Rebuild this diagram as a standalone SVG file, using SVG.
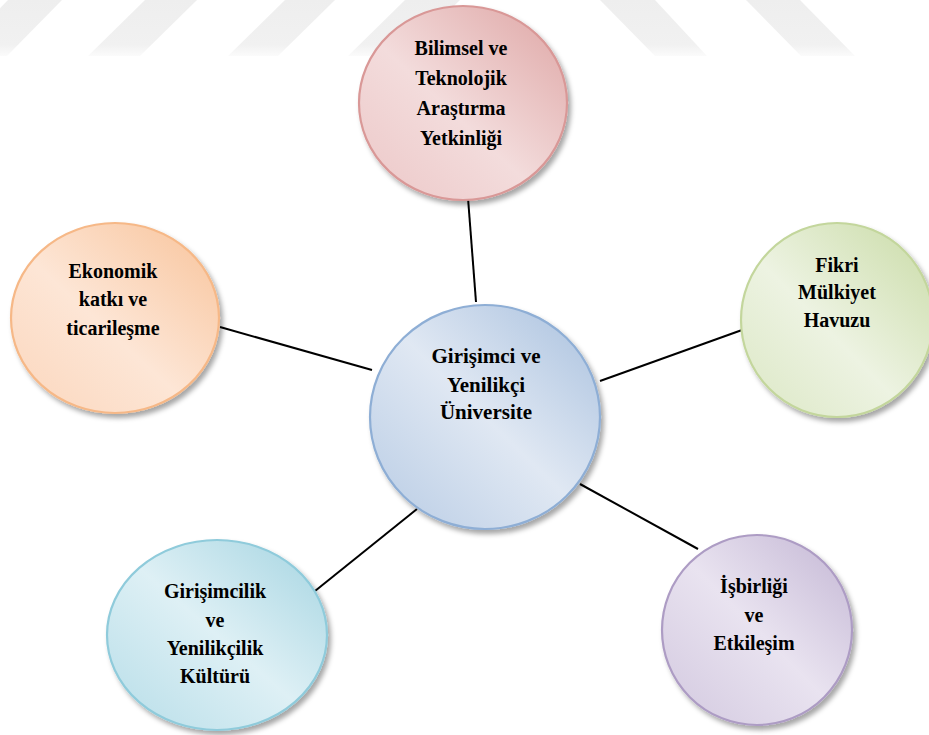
<svg xmlns="http://www.w3.org/2000/svg" width="929" height="735" viewBox="0 0 929 735">
<defs>
<linearGradient id="stripe" x1="0" y1="0" x2="0" y2="1">
<stop offset="0" stop-color="#eeeeee"/>
<stop offset="0.8" stop-color="#f1f1f1"/>
<stop offset="1" stop-color="#fbfbfb"/>
</linearGradient>
<filter id="sh" x="-20%" y="-20%" width="140%" height="140%">
<feDropShadow dx="3" dy="4" stdDeviation="2.5" flood-color="#000" flood-opacity="0.35"/>
</filter>
<linearGradient id="gRed" x1="1" y1="0" x2="0" y2="1">
<stop offset="0" stop-color="#dea5a4"/>
<stop offset="0.55" stop-color="#f3dcdc"/>
<stop offset="1" stop-color="#ecc7c7"/>
</linearGradient>
<linearGradient id="gOrange" x1="1" y1="0" x2="0" y2="1">
<stop offset="0" stop-color="#f8c39a"/>
<stop offset="0.55" stop-color="#fde6d6"/>
<stop offset="1" stop-color="#fbd6bc"/>
</linearGradient>
<linearGradient id="gGreen" x1="1" y1="0" x2="0" y2="1">
<stop offset="0" stop-color="#c9dba6"/>
<stop offset="0.55" stop-color="#edf3e2"/>
<stop offset="1" stop-color="#dbe7c4"/>
</linearGradient>
<linearGradient id="gBlue" x1="1" y1="0" x2="0" y2="1">
<stop offset="0" stop-color="#a8c0de"/>
<stop offset="0.5" stop-color="#e0e8f3"/>
<stop offset="1" stop-color="#b7cbe4"/>
</linearGradient>
<linearGradient id="gPurple" x1="1" y1="0" x2="0" y2="1">
<stop offset="0" stop-color="#c3b6d4"/>
<stop offset="0.5" stop-color="#e9e3f0"/>
<stop offset="1" stop-color="#d2c8df"/>
</linearGradient>
<linearGradient id="gCyan" x1="1" y1="0" x2="0" y2="1">
<stop offset="0" stop-color="#a4d4e1"/>
<stop offset="0.5" stop-color="#def0f5"/>
<stop offset="1" stop-color="#b6dde8"/>
</linearGradient>
</defs>
<rect width="929" height="735" fill="#fff"/>
<g id="watermark" fill="url(#stripe)">
<polygon points="8,0 62,0 7,56 -47,56"/>
<polygon points="145,0 197,0 140,56 88,56"/>
<polygon points="285,0 335,0 278,56 228,56"/>
<polygon points="405,0 460,0 403,56 348,56"/>
<polygon points="600,0 655,0 707,56 655,56"/>
<polygon points="746,0 800,0 855,56 801,56"/>
</g>
<g id="connectors" stroke="#000" stroke-width="2">
<line x1="476" y1="302" x2="468" y2="198"/>
<line x1="220" y1="327" x2="372" y2="370"/>
<line x1="600" y1="381" x2="742" y2="330"/>
<line x1="580" y1="484" x2="698" y2="549"/>
<line x1="417" y1="509" x2="315" y2="591"/>
</g>
<g id="nodes" style="font-family:'Liberation Serif',serif;font-weight:bold;font-size:20px" text-anchor="middle">
<g id="n-top">
<ellipse cx="463" cy="103" rx="104" ry="97" fill="url(#gRed)" stroke="#d99897" stroke-width="2.2" filter="url(#sh)"/>
<text x="461" y="55">Bilimsel ve</text>
<text x="461" y="85">Teknolojik</text>
<text x="461" y="115">Araştırma</text>
<text x="461" y="145">Yetkinliği</text>
</g>
<g id="n-left">
<ellipse cx="115" cy="318" rx="104" ry="95" fill="url(#gOrange)" stroke="#f6b887" stroke-width="2.2" filter="url(#sh)"/>
<text x="113" y="278">Ekonomik</text>
<text x="113" y="306">katkı ve</text>
<text x="113" y="335">ticarileşme</text>
</g>
<g id="n-right">
<ellipse cx="837" cy="320" rx="96" ry="97" fill="url(#gGreen)" stroke="#c3d69c" stroke-width="2.2" filter="url(#sh)"/>
<text x="837" y="272">Fikri</text>
<text x="837" y="299">Mülkiyet</text>
<text x="837" y="327">Havuzu</text>
</g>
<g id="n-center" style="font-size:21px">
<ellipse cx="485" cy="417" rx="115" ry="112" fill="url(#gBlue)" stroke="#8eaed5" stroke-width="2.2" filter="url(#sh)"/>
<text x="486" y="363">Girişimci ve</text>
<text x="486" y="392">Yenilikçi</text>
<text x="486" y="419">Üniversite</text>
</g>
<g id="n-bottomright">
<ellipse cx="757" cy="630" rx="95" ry="95" fill="url(#gPurple)" stroke="#ad9cc4" stroke-width="2.2" filter="url(#sh)"/>
<text x="754" y="593">İşbirliği</text>
<text x="754" y="622">ve</text>
<text x="754" y="650">Etkileşim</text>
</g>
<g id="n-bottomleft">
<ellipse cx="217" cy="635" rx="110" ry="95" fill="url(#gCyan)" stroke="#8fcbdb" stroke-width="2.2" filter="url(#sh)"/>
<text x="215" y="598">Girişimcilik</text>
<text x="215" y="627">ve</text>
<text x="215" y="655">Yenilikçilik</text>
<text x="215" y="683">Kültürü</text>
</g>
</g>
</svg>
